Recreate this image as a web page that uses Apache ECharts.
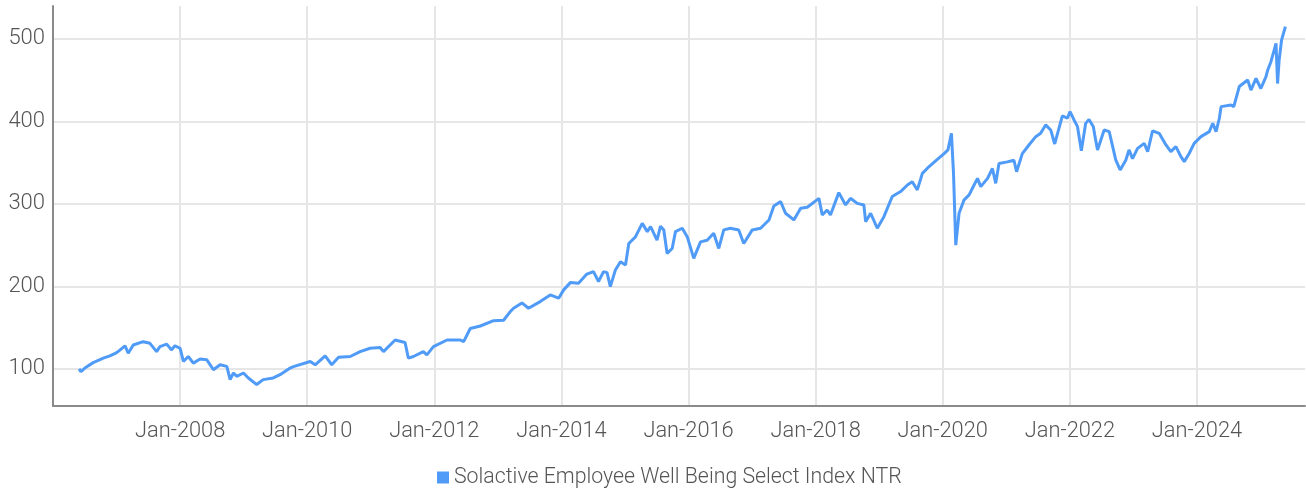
<!DOCTYPE html>
<html>
<head>
<meta charset="utf-8">
<script src="https://cdn.jsdelivr.net/npm/echarts@6/dist/echarts.min.js"></script>
<style>
html,body{margin:0;padding:0;background:#fff;}
#chart{width:1306px;height:491px;}
</style>
</head>
<body>
<div id="chart"></div>
<script>
const seriesName = 'Solactive Employee Well Being Select Index NTR';
const dates = [
'2006-05-31','2006-06-10','2006-07-03','2006-08-20','2006-10-17','2006-11-24',
'2007-01-02','2007-02-19','2007-03-09','2007-04-07','2007-06-03','2007-07-12','2007-08-19','2007-09-07','2007-10-16','2007-11-13','2007-12-02',
'2008-01-01','2008-01-20','2008-02-17','2008-03-17','2008-04-25','2008-06-03','2008-07-11','2008-08-18','2008-09-26','2008-10-15','2008-11-03','2008-11-22','2008-12-31',
'2009-01-28','2009-03-17','2009-04-23','2009-06-20','2009-07-29','2009-09-25','2009-10-14',
'2010-01-18','2010-02-16','2010-04-14','2010-05-22','2010-06-30','2010-09-05','2010-11-01','2010-12-28',
'2011-02-24','2011-03-15','2011-05-21','2011-07-17','2011-08-05','2011-09-03','2011-10-30','2011-11-19','2011-12-27',
'2012-03-14','2012-05-30','2012-06-18','2012-07-26','2012-09-22','2012-12-07',
'2013-02-03','2013-03-13','2013-04-01','2013-05-19','2013-06-26','2013-09-01','2013-10-29','2013-12-16',
'2014-01-14','2014-02-21','2014-04-09','2014-05-27','2014-07-04','2014-08-02','2014-08-31','2014-09-20','2014-10-09','2014-11-07','2014-12-06',
'2015-01-04','2015-01-23','2015-03-02','2015-04-10','2015-05-09','2015-05-28','2015-07-04','2015-07-24','2015-08-12','2015-08-31','2015-09-29','2015-10-18','2015-11-26','2015-12-25',
'2016-01-31','2016-03-10','2016-04-17','2016-05-25','2016-06-23','2016-07-22','2016-08-29','2016-10-16','2016-11-14',
'2017-01-02','2017-02-19','2017-04-08','2017-05-06','2017-06-14','2017-07-12','2017-08-29','2017-10-07','2017-11-14',
'2018-01-20','2018-02-08','2018-03-08','2018-03-27','2018-05-14','2018-06-22','2018-07-20','2018-08-28','2018-10-05','2018-10-15','2018-11-13','2018-12-21',
'2019-01-28','2019-03-17','2019-05-04','2019-06-12','2019-07-10','2019-08-08','2019-09-06','2019-10-13','2019-12-01',
'2020-01-09','2020-01-31','2020-02-20','2020-03-03','2020-03-16','2020-04-04','2020-05-03','2020-06-01','2020-06-20','2020-07-19','2020-08-07','2020-09-15','2020-10-13','2020-11-01','2020-11-20',
'2021-01-07','2021-02-14','2021-03-01','2021-04-03','2021-05-11','2021-06-19','2021-07-17','2021-08-15','2021-09-13','2021-10-06','2021-11-19','2021-12-18',
'2022-01-02','2022-01-25','2022-02-14','2022-03-08','2022-04-02','2022-04-21','2022-05-16','2022-05-24','2022-06-09','2022-07-17','2022-08-15','2022-09-22','2022-10-17','2022-11-18','2022-12-07','2022-12-27',
'2023-01-25','2023-03-04','2023-03-24','2023-04-21','2023-05-29','2023-07-07','2023-08-04','2023-09-02','2023-10-01','2023-10-20','2023-11-18','2023-12-16',
'2024-01-24','2024-03-12','2024-04-01','2024-04-20','2024-05-09','2024-05-19','2024-07-15','2024-07-31','2024-09-01','2024-10-19','2024-11-07','2024-12-06',
'2025-01-03','2025-02-01','2025-02-11','2025-03-02','2025-03-31','2025-04-09','2025-04-18','2025-05-02','2025-05-24'
];
const values = [
100,96.5,101,107.6,113,115.8,
119.8,128,119,129,133,131,121,127,130,123,128,
125,109,115,107,112,111,99,105,103,87,95,91,95,
89,81,87,89,93,101,102.8,
109,105,115.8,105,114,115,121,125,
126,121,135,132,113,115,121,117,127,
135,135,133,149,152,158.5,
159,169.5,173.5,180,173.5,181.6,189.7,185.7,
195.8,204.6,203.8,215,218,206,218,216.7,199.8,220,230,
226,252,260,276.5,266.4,272.5,256,273,268.5,240,246,266.4,270.5,260,
234,254,256,264.4,246,268.5,270.5,268.5,252,
268.5,270.5,280.6,297.6,302.8,288.7,280.6,294.8,296,
306.8,286.6,292.7,286.6,313.7,298.8,306.8,300.7,298.8,278.5,288.7,270.5,
284.6,309,315,323,327,317,337,345,354,
361,365.5,385.6,337,250,288.7,305,311,319,331,321,331,343,325,349,
351,353,339,361,371.5,381.6,385.6,395.8,389.7,372.7,406.7,403.9,
412,401.8,393.7,364.6,397.7,402.5,393.7,383.6,365.5,389.7,387.7,353,341.2,353,365.5,355,
367.4,373.5,363.4,388.7,385.6,371.5,363.4,369.5,357.3,351.3,361.5,373.5,
381.6,387.7,397.8,387.7,403.9,418,420,418,442.4,450.3,438,452.2,
440,454,462,472.5,494.7,446,474.5,498.8,515
];
const yTicks = [100, 200, 300, 400, 500];
const xTicks = [2008, 2010, 2012, 2014, 2016, 2018, 2020, 2022, 2024];

function toYear(s) {
  const p = s.split('-').map(Number);
  const t = Date.UTC(p[0], p[1] - 1, p[2]);
  const t0 = Date.UTC(p[0], 0, 1), t1 = Date.UTC(p[0] + 1, 0, 1);
  return p[0] + (t - t0) / (t1 - t0);
}
const seriesData = dates.map((d, i) => [toYear(d), values[i]]);

const FONT = 'Roboto';
const chart = echarts.init(document.getElementById('chart'), null, {renderer: 'canvas'});
chart.setOption({
  animation: false,
  backgroundColor: '#ffffff',
  grid: {left: 53, right: 1, top: 6, bottom: 85, containLabel: false},
  legend: {
    data: [{name: seriesName, icon: 'rect'}],
    left: 432, top: 462,
    itemWidth: 12, itemHeight: 12,
    textStyle: {fontFamily: FONT, fontSize: 21.3, color: '#555', fontWeight: 300}
  },
  xAxis: {
    type: 'value', min: 2006, max: 2025.7,
    axisLine: {show: true, onZero: false, lineStyle: {color: '#8a8a8a', width: 2}},
    axisTick: {show: false, customValues: xTicks},
    axisLabel: {customValues: xTicks, formatter: v => 'Jan-' + Math.round(v), margin: 15,
      fontFamily: FONT, fontSize: 21.8, color: '#555', fontWeight: 300},
    splitLine: {show: true, lineStyle: {color: '#e6e6e6', width: 2}}
  },
  yAxis: {
    type: 'value', min: 55, max: 540,
    axisLine: {show: true, lineStyle: {color: '#8a8a8a', width: 2}},
    axisTick: {show: false, customValues: yTicks},
    axisLabel: {customValues: yTicks, margin: 8,
      fontFamily: FONT, fontSize: 22, color: '#555', fontWeight: 300},
    splitLine: {show: true, lineStyle: {color: '#e6e6e6', width: 2}}
  },
  series: [{
    name: seriesName, type: 'line', data: seriesData,
    showSymbol: false, symbol: 'none',
    itemStyle: {color: '#4f9bf7'},
    lineStyle: {color: '#4f9bf7', width: 3}
  }]
});
</script>
</body>
</html>
